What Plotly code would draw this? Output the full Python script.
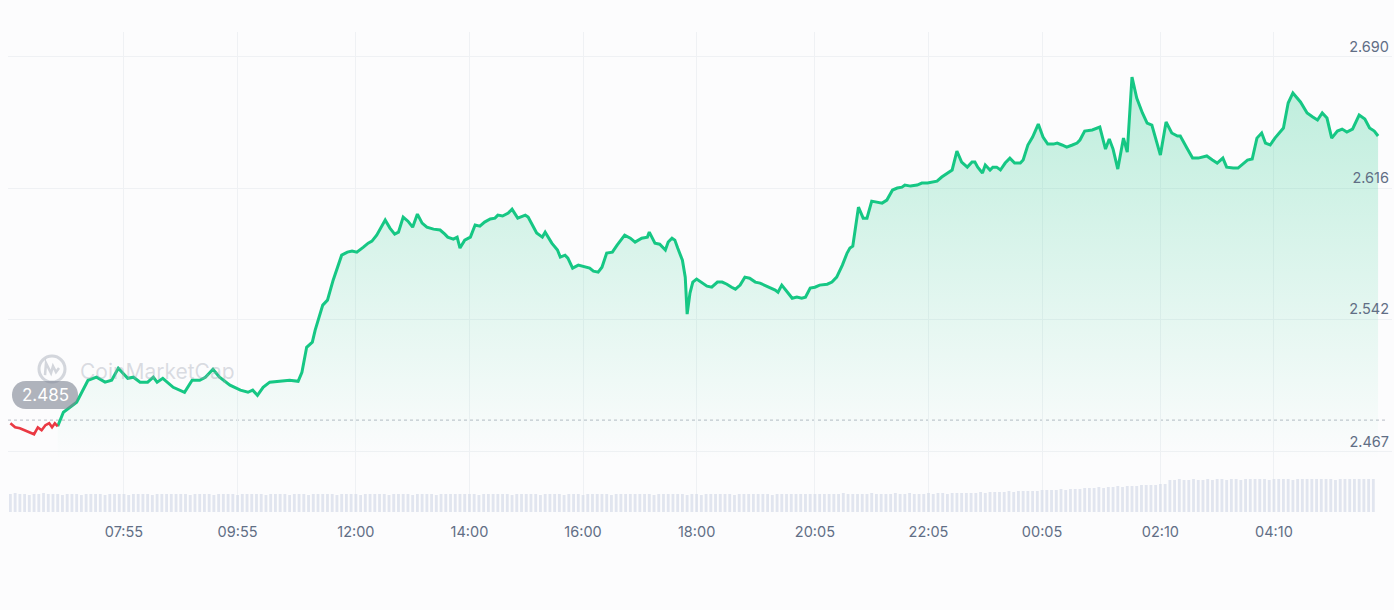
import pandas as pd
import plotly.graph_objects as go

START = pd.Timestamp("2024-03-11 05:55")
OPEN_PRICE = 2.485

# price samples: minutes after 05:55 and price
minutes = [0, 5, 10, 15, 21, 25, 29, 33, 37, 41, 44, 47, 50,
           56, 70, 82, 91, 100, 107, 114, 124, 130, 137, 145, 151, 155, 161, 172, 184, 192, 200,
           206, 214, 221, 232, 243, 251, 256, 261, 267, 274, 288, 295, 304, 308, 313, 319, 322, 327,
           330, 335, 341, 350, 356, 361, 366, 373, 378, 382, 387, 396, 401, 406, 410, 415, 420, 425,
           430, 435, 440, 447, 454, 459, 462, 468, 472, 475, 480, 486, 491, 496, 501, 507, 512, 515,
           520, 526, 530, 536, 544, 547, 556, 562, 565, 572, 578, 581, 586, 589, 594, 600, 607, 612,
           616, 621, 625, 630, 636, 641, 649, 655, 660, 667, 673, 675, 681, 686, 692, 695, 699, 702,
           705, 710, 713, 715, 718, 721, 725, 731, 736, 741, 747, 752, 757, 762, 766, 771, 776, 781,
           787, 792, 797, 803, 808, 811, 815, 821, 826, 831, 836, 840, 845, 850, 855, 863, 868, 873,
           879, 884, 887, 890, 896, 901, 905, 910, 916, 921, 926, 932, 937, 942, 945, 951, 958, 963,
           969, 974, 979, 984, 990, 995, 1000, 1005, 1011, 1016, 1019, 1022, 1027, 1030, 1035, 1038,
           1042, 1046, 1051, 1056, 1061, 1067, 1070, 1075, 1080, 1086, 1091, 1096, 1102, 1106, 1111,
           1116, 1122, 1127, 1130, 1135, 1143, 1149, 1151, 1157, 1161, 1165, 1170, 1176, 1180, 1185,
           1190, 1196, 1201, 1206, 1215, 1221, 1227, 1233, 1236, 1243, 1249, 1255, 1264, 1270, 1275,
           1281, 1285, 1292, 1297, 1307, 1312, 1317, 1322, 1326, 1331, 1336, 1345, 1350, 1355, 1363,
           1370, 1376, 1381, 1386, 1391, 1396, 1402, 1407, 1412, 1418, 1425, 1431, 1436, 1441, 1445]

price = [2.4832, 2.4809, 2.4804, 2.4793, 2.4781, 2.4770, 2.4809, 2.4793, 2.4821, 2.4832, 2.4809, 2.4832, 2.4815,
         2.4894, 2.4951, 2.5075, 2.5092, 2.5064, 2.5075, 2.5143, 2.5086, 2.5092, 2.5064, 2.5064, 2.5092, 2.5064, 2.5086, 2.5035, 2.5007, 2.5075, 2.5075,
         2.5092, 2.5137, 2.5092, 2.5047, 2.5019, 2.5007, 2.5019, 2.4990, 2.5035, 2.5064, 2.5069, 2.5075, 2.5069, 2.5120, 2.5261, 2.5290, 2.5358, 2.5454,
         2.5499, 2.5527, 2.5640, 2.5781, 2.5798, 2.5804, 2.5798, 2.5826, 2.5849, 2.5860, 2.5894, 2.5979, 2.5934, 2.5900, 2.5911, 2.5996, 2.5973, 2.5939,
         2.6013, 2.5962, 2.5939, 2.5928, 2.5923, 2.5900, 2.5883, 2.5872, 2.5883, 2.5821, 2.5866, 2.5883, 2.5951, 2.5945, 2.5968, 2.5985, 2.5990, 2.6007,
         2.6002, 2.6019, 2.6041, 2.5990, 2.6007, 2.5996, 2.5906, 2.5883, 2.5911, 2.5849, 2.5810, 2.5770, 2.5781, 2.5764, 2.5708, 2.5725, 2.5713, 2.5708,
         2.5691, 2.5685, 2.5713, 2.5793, 2.5798, 2.5838, 2.5894, 2.5877, 2.5855, 2.5877, 2.5883, 2.5911, 2.5849, 2.5843, 2.5810, 2.5855, 2.5877, 2.5866,
         2.5821, 2.5753, 2.5657, 2.5448, 2.5567, 2.5629, 2.5646, 2.5623, 2.5606, 2.5600, 2.5629, 2.5629, 2.5617, 2.5600, 2.5589, 2.5612, 2.5657, 2.5651,
         2.5629, 2.5623, 2.5612, 2.5595, 2.5584, 2.5572, 2.5612, 2.5572, 2.5538, 2.5544, 2.5538, 2.5544, 2.5595, 2.5600, 2.5612, 2.5617, 2.5629, 2.5657,
         2.5725, 2.5793, 2.5821, 2.5832, 2.6052, 2.5990, 2.5990, 2.6086, 2.6081, 2.6075, 2.6092, 2.6149, 2.6160, 2.6165, 2.6177, 2.6171, 2.6177, 2.6188,
         2.6188, 2.6194, 2.6199, 2.6222, 2.6245, 2.6262, 2.6369, 2.6307, 2.6278, 2.6307, 2.6307, 2.6278, 2.6245, 2.6290, 2.6262, 2.6278,
         2.6278, 2.6262, 2.6301, 2.6329, 2.6301, 2.6301, 2.6318, 2.6403, 2.6448, 2.6521, 2.6448, 2.6408, 2.6408, 2.6414, 2.6403,
         2.6391, 2.6403, 2.6414, 2.6431, 2.6482, 2.6488, 2.6499, 2.6504, 2.6380, 2.6437, 2.6380, 2.6267, 2.6442, 2.6363, 2.6787,
         2.6668, 2.6584, 2.6527, 2.6516, 2.6346, 2.6533, 2.6471, 2.6454, 2.6454, 2.6386, 2.6329, 2.6329, 2.6341, 2.6318, 2.6301,
         2.6329, 2.6278, 2.6273, 2.6273, 2.6318, 2.6324, 2.6442, 2.6471, 2.6414, 2.6403, 2.6442, 2.6499, 2.6640, 2.6697, 2.6646,
         2.6584, 2.6561, 2.6544, 2.6584, 2.6555, 2.6442, 2.6482, 2.6493, 2.6476, 2.6493, 2.6572, 2.6550, 2.6499, 2.6482, 2.6454]

RED_END = 12  # index of last point drawn in red (below the open price)

# volume, one bar per 5 minutes from 05:55 (arbitrary units)
volume = [
    18, 19, 18, 18, 17, 18, 18, 19, 18, 18, 18, 17,
    18, 18, 18, 17, 18, 18, 18, 18, 17, 18, 18, 18,
    18, 17, 18, 18, 18, 18, 17, 18, 18, 18, 18, 18,
    18, 18, 17, 18, 18, 18, 18, 17, 18, 18, 18, 18,
    17, 18, 18, 18, 18, 18, 17, 18, 18, 18, 18, 17,
    18, 18, 18, 17, 18, 18, 18, 18, 18, 17, 18, 18,
    18, 18, 17, 18, 18, 18, 18, 18, 17, 18, 18, 18,
    18, 17, 18, 18, 18, 18, 17, 18, 18, 18, 18, 18,
    18, 18, 18, 17, 18, 18, 18, 18, 18, 18, 17, 18,
    18, 18, 18, 18, 17, 18, 18, 18, 18, 17, 18, 18,
    18, 17, 18, 18, 18, 18, 18, 17, 18, 18, 18, 18,
    18, 18, 18, 18, 17, 18, 18, 18, 18, 18, 18, 17,
    18, 18, 17, 18, 18, 18, 18, 18, 18, 17, 18, 18,
    18, 18, 18, 18, 18, 17, 18, 18, 18, 18, 18, 18,
    18, 18, 18, 18, 18, 18, 18, 18, 19, 18, 18, 18,
    18, 18, 19, 18, 18, 18, 18, 19, 18, 18, 19, 18,
    18, 18, 19, 18, 19, 19, 18, 19, 19, 19, 19, 19,
    19, 20, 19, 20, 20, 20, 20, 21, 20, 21, 21, 21,
    21, 21, 22, 22, 22, 22, 23, 22, 23, 23, 23, 24,
    24, 24, 25, 24, 25, 25, 26, 25, 26, 26, 26, 27,
    27, 27, 27, 28, 28, 32, 32, 33, 32, 32, 33, 32,
    32, 33, 32, 33, 33, 32, 33, 33, 32, 33, 33, 33,
    33, 33, 32, 33, 33, 33, 33, 32, 33, 33, 33, 33,
    33, 33, 33, 33, 32, 33, 33, 33, 33, 33, 33, 33,
    33]
vol_minutes = [5 * i for i in range(len(volume))]

tick_times = ["2024-03-11 07:55", "2024-03-11 09:55", "2024-03-11 12:00", "2024-03-11 14:00",
              "2024-03-11 16:00", "2024-03-11 18:00", "2024-03-11 20:05", "2024-03-11 22:05",
              "2024-03-12 00:05", "2024-03-12 02:10", "2024-03-12 04:10"]
tick_text = ["07:55", "09:55", "12:00", "14:00", "16:00", "18:00", "20:05", "22:05",
             "00:05", "02:10", "04:10"]
y_ticks = [2.467, 2.542, 2.616, 2.690]
y_text = ["2.467", "2.542", "2.616", "2.690"]

GREEN = "#16c784"
RED = "#ea3943"
Y_MIN, Y_MAX = 2.4331, 2.7041

times = [START + pd.Timedelta(minutes=m) for m in minutes]
vol_times = [START + pd.Timedelta(minutes=m) for m in vol_minutes]

fig = go.Figure()

# fill baseline (bottom of the plot)
fig.add_trace(go.Scatter(x=[times[RED_END], times[-1]], y=[Y_MIN, Y_MIN], mode="lines",
                         line=dict(width=0, color="rgba(0,0,0,0)"), hoverinfo="skip"))
fig.add_trace(go.Scatter(
    x=times[RED_END:], y=price[RED_END:], mode="lines",
    line=dict(color=GREEN, width=3),
    fill="tonexty",
    fillgradient=dict(type="vertical",
                      colorscale=[[0, "rgba(22,199,132,0)"], [1, "rgba(22,199,132,0.30)"]],
                      start=2.462, stop=2.70),
    hoverinfo="skip"))
fig.add_trace(go.Scatter(x=times[:RED_END + 1], y=price[:RED_END + 1], mode="lines",
                         line=dict(color=RED, width=2.6), hoverinfo="skip"))

fig.add_trace(go.Bar(x=vol_times, y=volume, yaxis="y2",
                     marker=dict(color="rgba(214,219,232,0.7)", line=dict(width=0)),
                     hoverinfo="skip"))

tickfont = dict(family="Inter", size=14.5, color="#616e85")

fig.update_layout(
    width=1394, height=610,
    margin=dict(l=8, r=2, t=32, b=98),
    paper_bgcolor="#fcfcfd", plot_bgcolor="#fcfcfd",
    showlegend=False, bargap=0.4,
    xaxis=dict(range=["2024-03-11 05:52:28", "2024-03-12 06:14:42"],
               tickvals=tick_times, ticktext=tick_text, tickfont=tickfont,
               showgrid=True, gridcolor="#eff1f4", gridwidth=1, zeroline=False,
               showline=False, ticks="", ticklabelstandoff=9),
    yaxis=dict(range=[Y_MIN, Y_MAX], side="right", tickvals=y_ticks, ticktext=y_text,
               ticklabelposition="inside top", tickfont=tickfont,
               showgrid=True, gridcolor="#eff1f4", gridwidth=1, zeroline=False,
               showline=False, ticks=""),
    yaxis2=dict(overlaying="y", range=[0, 480], visible=False, showgrid=False),
)

# open-price dotted line
fig.add_shape(type="line", xref="paper", yref="y", x0=0, x1=0.995, y0=OPEN_PRICE, y1=OPEN_PRICE,
              line=dict(color="#c4c8d0", width=1.2, dash="dot"), layer="below")

# watermark logo
fig.add_shape(type="circle", xref="paper", yref="y", xsizemode="pixel", ysizemode="pixel",
              xanchor=0, yanchor=OPEN_PRICE, x0=31, x1=57, y0=38, y1=64,
              line=dict(color="rgba(170,176,188,0.5)", width=3), layer="below")
fig.add_shape(type="path", xref="paper", yref="y", xsizemode="pixel", ysizemode="pixel",
              xanchor=0, yanchor=OPEN_PRICE,
              path="M 37,45 L 38,57 L 43,47 L 45,54 L 48,48 L 51,52",
              line=dict(color="rgba(170,176,188,0.5)", width=2.5), layer="below")
fig.add_annotation(xref="paper", yref="y", x=0, y=OPEN_PRICE, xshift=70, yshift=49,
                   xanchor="left", yanchor="middle", showarrow=False,
                   text="CoinMarketCap",
                   font=dict(family="Inter", size=21, color="rgba(160,166,180,0.38)"))

# open price pill
fig.add_shape(type="path", xref="paper", yref="y", xsizemode="pixel", ysizemode="pixel",
              xanchor=0, yanchor=OPEN_PRICE,
              path="M 18,11 L 56,11 C 74.7,11 74.7,39 56,39 L 18,39 C -0.7,39 -0.7,11 18,11 Z",
              fillcolor="rgba(128,134,148,0.62)", line=dict(width=0))
fig.add_annotation(xref="paper", yref="y", x=0, y=OPEN_PRICE, xshift=37, yshift=25,
                   xanchor="center", yanchor="middle", showarrow=False, text="2.485",
                   font=dict(family="Inter", size=17, color="white"))

fig.write_html("out.html")
